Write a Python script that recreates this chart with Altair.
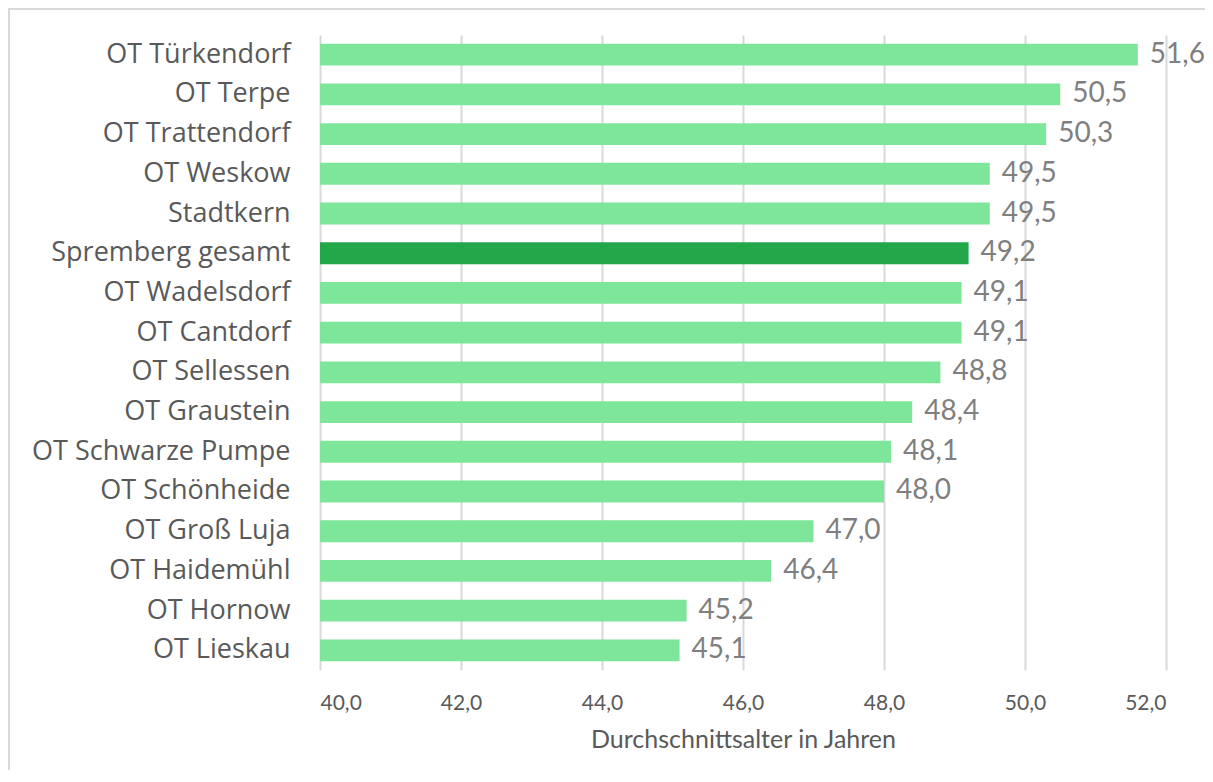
import altair as alt
import pandas as pd

categories = [
    "OT Türkendorf", "OT Terpe", "OT Trattendorf", "OT Weskow", "Stadtkern",
    "Spremberg gesamt", "OT Wadelsdorf", "OT Cantdorf ", "OT Sellessen",
    "OT Graustein", "OT Schwarze Pumpe", "OT Schönheide", "OT Groß Luja",
    "OT Haidemühl", "OT Hornow", "OT Lieskau",
]
values = [51.6, 50.5, 50.3, 49.5, 49.5, 49.2, 49.1, 49.1, 48.8,
          48.4, 48.1, 48.0, 47.0, 46.4, 45.2, 45.1]
highlight = [c == "Spremberg gesamt" for c in categories]

df = pd.DataFrame({"Ortsteil": categories, "Alter": values, "gesamt": highlight})

W, H = 846, 635
PAD_L, PAD_T = 312, 27
FONT = "Lato"

base = alt.Chart(df).encode(
    y=alt.Y("Ortsteil:N", sort=categories,
            scale=alt.Scale(paddingInner=0.45, paddingOuter=0.22),
            axis=alt.Axis(title=None, ticks=False, domain=False, labelFontSize=27,
                          labelColor="#595959", labelPadding=30, labelFont="Open Sans",
                          labelLimit=400)),
)

bars = base.mark_bar().encode(
    x=alt.X("Alter:Q", scale=alt.Scale(domain=[40, 52], nice=False, zero=False),
            axis=alt.Axis(values=[40, 42, 44, 46, 48, 50, 52],
                          labelExpr="replace(format(datum.value, '.1f'), '.', ',')",
                          title="Durchschnittsalter in Jahren", titleFontSize=25,
                          titleFontWeight="normal", titleColor="#595959", titleFont=FONT,
                          titlePadding=14,
                          labelFontSize=21, labelColor="#595959", labelFont=FONT,
                          labelPadding=22, domain=False, ticks=False,
                          grid=True, gridColor="#d9d9d9", gridWidth=2)),
    x2=alt.X2(datum=40),
    color=alt.Color("gesamt:N", scale=alt.Scale(domain=[False, True],
                                                  range=["#7ee69b", "#22a84b"]),
                    legend=None),
)

labels = base.transform_calculate(
    lab="replace(format(datum.Alter, '.1f'), '.', ',')"
).mark_text(align="left", baseline="middle", dx=12, fontSize=28, font=FONT,
            color="#7f7f7f").encode(
    x=alt.X("Alter:Q"),
    text="lab:N",
)

border = alt.Chart(pd.DataFrame({"a": [0]})).mark_rect(
    fill=None, stroke="#d9d9d9", strokeWidth=2
).encode(
    x=alt.value(-PAD_L + 1), x2=alt.value(W + 80),
    y=alt.value(-PAD_T + 1), y2=alt.value(H + 150),
)

chart = alt.layer(border, bars, labels).properties(
    width=W, height=H,
    autosize=alt.AutoSizeParams(type="none"),
    padding={"left": PAD_L, "top": PAD_T, "right": 39, "bottom": 100},
).configure_view(stroke=None)

chart.save("out.html", embed_options={"renderer": "svg", "actions": False})
